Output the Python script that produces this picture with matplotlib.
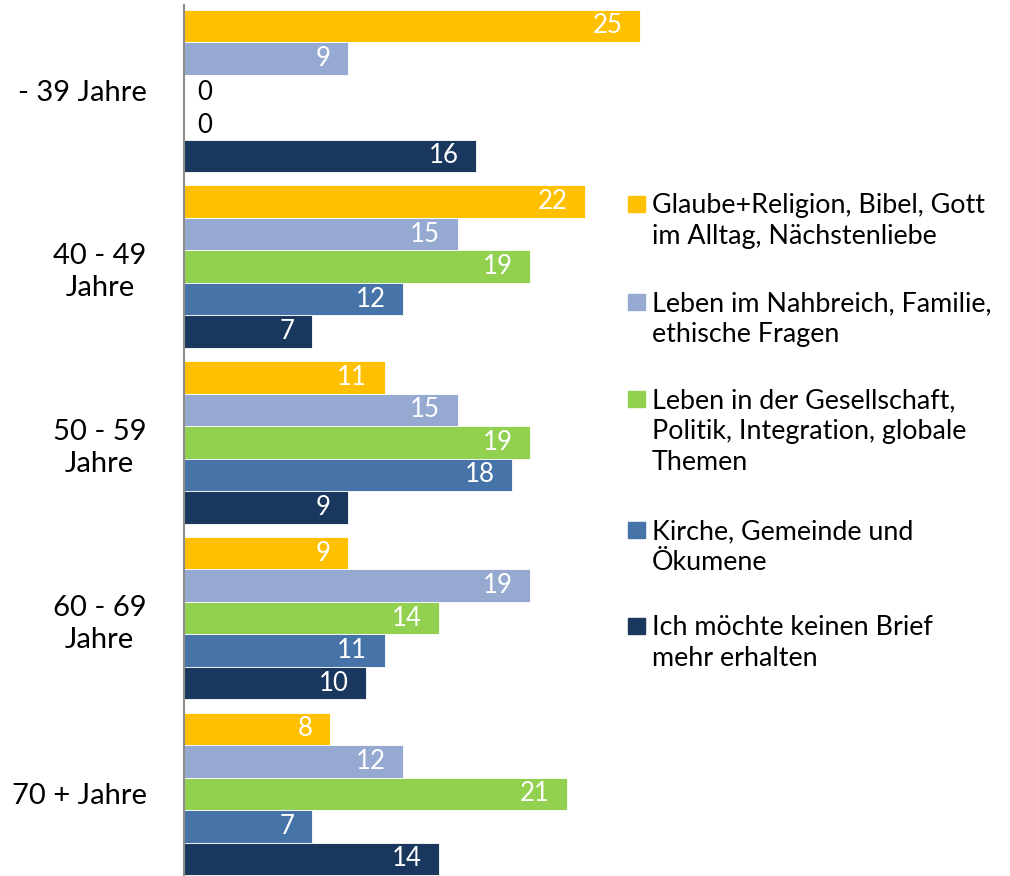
import numpy as np
import matplotlib
matplotlib.use("Agg")
import matplotlib.pyplot as plt
from matplotlib.patches import Rectangle

plt.rcParams['font.family'] = ['Lato', 'DejaVu Sans']

groups = ["- 39 Jahre", "40 - 49\nJahre", "50 - 59\nJahre", "60 - 69\nJahre", "70 + Jahre"]
series_names = [
    "Glaube+Religion, Bibel, Gott\nim Alltag, Nächstenliebe",
    "Leben im Nahbreich, Familie,\nethische Fragen",
    "Leben in der Gesellschaft,\nPolitik, Integration, globale\nThemen",
    "Kirche, Gemeinde und\nÖkumene",
    "Ich möchte keinen Brief\nmehr erhalten",
]
colors = ["#FFC000", "#95A9D1", "#92D050", "#4673A8", "#1A375E"]

glaube = [25, 22, 11, 9, 8]
nahbereich = [9, 15, 15, 19, 12]
gesellschaft = [0, 19, 19, 14, 21]
kirche = [0, 12, 18, 11, 7]
kein_brief = [16, 7, 9, 10, 14]
values = [glaube, nahbereich, gesellschaft, kirche, kein_brief]

fig = plt.figure(figsize=(10.1, 8.76), dpi=100)
ax = fig.add_axes([184 / 1010, 0, 547 / 1010, 871 / 876])

bar_h = 0.185
y = np.arange(len(groups))
for i, vals in enumerate(values):
    pos = y + (i - 2) * bar_h
    bars = ax.barh(pos, vals, height=bar_h, color=colors[i],
                   edgecolor="white", linewidth=0.6)
    for b, v in zip(bars, vals):
        cy = b.get_y() + b.get_height() / 2
        if v == 0:
            ax.text(0.7, cy + 0.01, str(v), ha="left", va="center",
                    fontsize=18.5, color="black")
        else:
            ax.text(v - 0.95, cy, str(v), ha="right", va="center",
                    fontsize=18.5, color="white")

ax.set_xlim(0, 30)
ax.set_ylim(4.467, -0.489)
ax.set_yticks(y)
ax.set_yticklabels(groups, fontsize=21, ha="right", multialignment="center",
                   linespacing=1.3)
ax.tick_params(axis="y", length=0, pad=27)
ax.set_xticks([])
for s in ["top", "right", "bottom"]:
    ax.spines[s].set_visible(False)
ax.spines["left"].set_color("#8C8C8C")
ax.spines["left"].set_linewidth(1.5)

# legend drawn by hand so the square sits beside the first line
tops = [201, 299, 396, 527, 623]
for i, name in enumerate(series_names):
    t = tops[i]
    fig.patches.append(Rectangle((628 / 1010, 1 - (t + 11) / 876), 17 / 1010, 16 / 876,
                                 transform=fig.transFigure, color=colors[i]))
    fig.text(652 / 1010, 1 - (t - 8) / 876, name, ha="left", va="top",
             fontsize=19.4, linespacing=1.3, color="black")

fig.savefig("out.png", dpi=100)
